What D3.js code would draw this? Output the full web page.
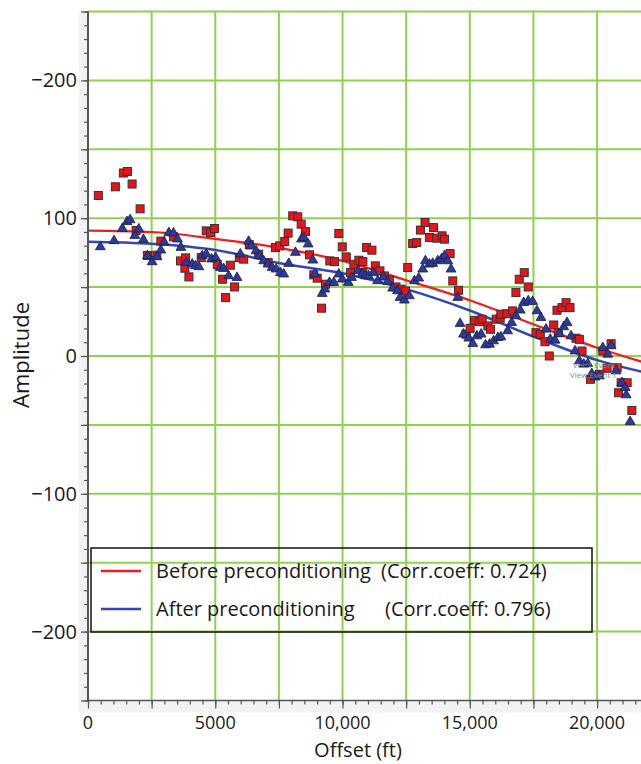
<!DOCTYPE html>
<html>
<head>
<meta charset="utf-8">
<script src="https://cdn.jsdelivr.net/npm/d3@7/dist/d3.min.js"></script>
<style>
body { margin: 0; background: #fff; }
svg { display: block; font-family: "Open Sans", "Noto Sans", sans-serif; }
</style>
</head>
<body>
<svg id="chart" width="641" height="764"></svg>
<script>
// scatter: before preconditioning (red squares)
var beforeOffset = [406, 1075, 1390, 1547, 1732, 2047, 1890, 2862, 2335, 2705, 3358, 3634, 3831, 3807, 3965,
    4646, 4815, 4972, 4449, 5079, 5287, 5405, 5591, 5760, 5945, 6114, 6339, 6705, 7075, 7362, 7531, 7728,
    7862, 8043, 8240, 8374, 8543, 8701, 8870, 9004, 9331, 9173, 9500, 9685, 9854, 9988, 10146, 10315, 10445,
    10642, 10799, 10799, 10945, 11154, 11287, 11469, 11642, 11838, 12098, 12295, 12469, 12559, 12756, 12913,
    13059, 13240, 13413, 13571, 13701, 13910, 14004, 14225, 14331, 14555, 14854, 15012, 15185, 15382, 15484,
    15709, 15815, 16035, 16193, 16220, 16457, 16681, 16811, 16941, 17138, 17295, 17598, 17768, 17953, 18122,
    18295, 18476, 18425, 18622, 18780, 18937, 19173, 19303, 19409, 19736, 20090, 20224, 20394, 20551, 20787,
    20839, 20945, 21181, 21366];
var beforeAmp = [116.5, 122.8, 132.8, 133.9, 124.8, 106.8, 91.1, 83.4, 72.9, 73.2, 86.5, 69.0, 71.2, 63.7, 57.4,
    90.8, 89.6, 92.5, 71.4, 66.4, 55.7, 42.4, 65.9, 50.1, 71.4, 70.3, 80.7, 73.9, 67.8, 78.7, 79.9, 83.1,
    89.2, 101.7, 101.0, 95.7, 90.3, 73.4, 58.9, 56.5, 52.1, 34.7, 69.0, 68.5, 88.9, 79.2, 71.9, 60.5, 66.6,
    69.5, 68.5, 60.5, 78.7, 76.8, 65.4, 61.8, 58.1, 55.0, 50.1, 48.5, 47.2, 64.2, 81.6, 82.3,
    91.4, 96.9, 86.0, 93.2, 85.5, 87.2, 84.8, 74.3, 54.5, 47.7, 15.8, 20.1, 25.9, 24.9, 26.7,
    21.8, 19.4, 26.7, 27.4, 30.3, 30.7, 32.7, 46.0, 55.7, 60.5, 50.1, 16.9, 15.8, 10.4, 0,
    22.5, 16.9, 33.2, 35.1, 38.7, 35.1, 12.9, 12.1, 3.6, -16.9, -13.3, 3.6, -8.9, 8.9, -8.5,
    -26.7, -19.4, -19.4, -39.5];

// scatter: after preconditioning (blue triangles)
var afterOffset = [484, 1024, 1350, 1535, 1654, 1839, 1996, 2177, 2335, 2520, 2705, 2862, 2992, 3177, 3358,
    3516, 3650, 3858, 4094, 4224, 4358, 4488, 4646, 4854, 5012, 5197, 5327, 5524, 5854, 5984, 6311, 6417,
    6602, 6732, 6902, 7075, 7232, 7390, 7559, 7689, 7886, 8150, 8386, 8476, 8650, 8831, 8909, 9201, 9303,
    9488, 9657, 9854, 9988, 10224, 10354, 10618, 10775, 10905, 11024, 11209, 11378, 11602, 11772, 11969,
    12165, 12256, 12429, 12626, 12823, 12992, 13150, 13256, 13413, 13543, 13740, 13886, 14004, 14134, 14264,
    14528, 14618, 14752, 14961, 15118, 15276, 15445, 15618, 15776, 15933, 16102, 16220, 16484, 16642, 16811,
    16980, 17114, 17295, 17468, 17638, 17795, 17992, 18161, 18346, 18516, 18689, 18819, 18976, 19134, 19303,
    19476, 19634, 19791, 19921, 20090, 20224, 20421, 20551, 20748, 20972, 21102, 21142, 21299];
var afterAmp = [79.2, 83.6, 92.5, 97.4, 98.8, 87.4, 92.1, 84.5, 72.7, 68.3, 71.9, 76.8, 82.6, 89.4, 89.2,
    84.8, 78.7, 67.8, 66.6, 65.4, 64.7, 72.7, 73.9, 70.3, 71.4, 64.2, 63.4, 58.1, 56.9, 73.9, 83.1, 79.9,
    76.3, 72.7, 69.0, 66.6, 64.2, 63.0, 60.5, 59.4, 67.1, 75.1, 84.8, 86.0, 81.2, 69.5, 59.4, 45.3, 48.5,
    53.3, 53.3, 59.4, 55.7, 53.3, 56.9, 61.8, 59.4, 58.1, 58.1, 60.5, 54.5, 57.4, 54.0, 49.2,
    47.2, 42.4, 40.5, 43.6, 54.5, 56.5, 63.0, 69.0, 66.6, 67.1, 69.0, 70.3, 72.7, 69.0, 63.0,
    42.4, 23.5, 15.8, 12.9, 8.9, 14.5, 15.8, 8.0, 8.5, 10.9, 13.3, 13.8, 18.2, 24.2, 29.1,
    33.2, 38.7, 40.0, 39.5, 32.7, 27.8, 19.4, 12.1, 11.4, 16.2, 21.1, 24.2, 14.5, 3.6, -3.6,
    -6.0, -5.6, -12.9, -15.3, -14.5, 6.0, 1.2, 7.3, -10.9, -19.4, -23.0, -28.3, -47.7];

// trend lines
var fitOffset = [0, 2500, 5000, 7500, 10000, 12500, 15000, 17500, 20000, 22000];
var beforeFit = [91, 90, 85, 78.5, 69, 55, 40.5, 23, 6, -5.5];
var afterFit = [83, 81.5, 77, 67.5, 60, 48.5, 33, 14, -3, -12.5];

// axes (tick labels as printed on the original)
var yTickValues = [200, 100, 0, -100, -200];
var yTickLabels = ['\u2212200', '100', '0', '\u2212100', '\u2212200'];
var xTickValues = [0, 5000, 10000, 15000, 20000];
var xTickLabels = ['0', '5000', '10,000', '15,000', '20,000'];

var legendItems = [
    {name: 'Before preconditioning', coeff: '(Corr.coeff: 0.724)', color: '#f21d1d'},
    {name: 'After preconditioning', coeff: '(Corr.coeff: 0.796)', color: '#3346b4'}
];

var svg = d3.select('#chart');
var plotLeft = 88, plotTop = 11.5, plotBottom = 700.5, plotRight = 648;

var x = d3.scaleLinear().domain([0, 22000]).range([plotLeft, plotRight]);
var y = d3.scaleLinear().domain([-250, 250]).range([plotBottom, plotTop]);

// gray bands behind the axes
svg.append('rect').attr('x', 79).attr('y', plotTop).attr('width', plotLeft - 79).attr('height', plotBottom - plotTop + 12)
    .style('fill', '#f2f2f2');
svg.append('rect').attr('x', 79).attr('y', plotBottom).attr('width', 641 - 79).attr('height', 12)
    .style('fill', '#f2f2f2');

var plot = svg.append('g');
plot.append('rect').attr('x', plotLeft).attr('y', plotTop).attr('width', plotRight - plotLeft).attr('height', plotBottom - plotTop)
    .style('fill', '#fff');

// green grid
plot.selectAll('.vgrid')
    .data(d3.range(2500, 22001, 2500))
    .enter()
    .append('line')
    .attr('x1', function(d) {return x(d);})
    .attr('x2', function(d) {return x(d);})
    .attr('y1', plotTop)
    .attr('y2', plotBottom)
    .style('stroke', '#92d050')
    .style('stroke-width', 2);
plot.selectAll('.hgrid')
    .data(d3.range(-200, 251, 50))
    .enter()
    .append('line')
    .attr('x1', plotLeft)
    .attr('x2', plotRight)
    .attr('y1', function(d) {return y(d);})
    .attr('y2', function(d) {return y(d);})
    .style('stroke', '#92d050')
    .style('stroke-width', 2);

// axes with minor ticks
var yMinor = d3.axisLeft(y).tickValues(d3.range(-250, 251, 10)).tickSize(4).tickFormat('');
var yMajor = d3.axisLeft(y).tickValues(d3.range(-250, 251, 50)).tickSize(7).tickFormat('');
var xMinor = d3.axisBottom(x).tickValues(d3.range(0, 22001, 500)).tickSize(4).tickFormat('');
var xMajor = d3.axisBottom(x).tickValues(d3.range(0, 22001, 2500)).tickSize(8).tickFormat('');

[yMinor, yMajor].forEach(function(ax) {
    svg.append('g').attr('transform', 'translate(' + plotLeft + ',0)').call(ax);
});
[xMinor, xMajor].forEach(function(ax) {
    svg.append('g').attr('transform', 'translate(0,' + plotBottom + ')').call(ax);
});
svg.selectAll('.domain').remove();
svg.selectAll('.tick line').style('stroke', '#555').style('stroke-width', 1.2);

svg.append('line').attr('x1', plotLeft).attr('x2', plotLeft).attr('y1', plotTop).attr('y2', plotBottom + 1)
    .style('stroke', '#555').style('stroke-width', 2);
svg.append('line').attr('x1', plotLeft).attr('x2', 641).attr('y1', plotBottom).attr('y2', plotBottom)
    .style('stroke', '#555').style('stroke-width', 1.5);

// tick labels
svg.selectAll('.ylab')
    .data(yTickValues)
    .enter()
    .append('text')
    .attr('x', 77)
    .attr('y', function(d) {return y(d) + 7;})
    .attr('text-anchor', 'end')
    .style('font-size', '20px')
    .style('fill', '#1a1a1a')
    .text(function(d, i) {return yTickLabels[i];});
svg.selectAll('.xlab')
    .data(xTickValues)
    .enter()
    .append('text')
    .attr('x', function(d) {return x(d);})
    .attr('y', 729)
    .attr('text-anchor', 'middle')
    .style('font-size', '18px')
    .style('fill', '#1a1a1a')
    .text(function(d, i) {return xTickLabels[i];});

svg.append('text')
    .attr('x', 358)
    .attr('y', 757)
    .attr('text-anchor', 'middle')
    .style('font-size', '20px')
    .style('fill', '#1a1a1a')
    .text('Offset  (ft)');
svg.append('text')
    .attr('transform', 'translate(29,355) rotate(-90)')
    .attr('text-anchor', 'middle')
    .style('font-size', '22px')
    .style('fill', '#1a1a1a')
    .text('Amplitude');

// trend curves
var line = d3.line()
    .x(function(d) {return x(d[0]);})
    .y(function(d) {return y(d[1]);})
    .curve(d3.curveMonotoneX);
plot.append('path')
    .datum(d3.zip(fitOffset, beforeFit))
    .attr('d', line)
    .style('fill', 'none')
    .style('stroke', '#f21d1d')
    .style('stroke-width', 2.2);
plot.append('path')
    .datum(d3.zip(fitOffset, afterFit))
    .attr('d', line)
    .style('fill', 'none')
    .style('stroke', '#3346b4')
    .style('stroke-width', 2.5);

// points
plot.selectAll('.sq')
    .data(d3.zip(beforeOffset, beforeAmp))
    .enter()
    .append('rect')
    .attr('x', function(d) {return x(d[0]) - 4;})
    .attr('y', function(d) {return y(d[1]) - 4;})
    .attr('width', 8)
    .attr('height', 8)
    .style('fill', '#e8141c')
    .style('stroke', '#3a3030')
    .style('stroke-width', 1);
var tri = d3.symbol().type(d3.symbolTriangle).size(42);
plot.selectAll('.tri')
    .data(d3.zip(afterOffset, afterAmp))
    .enter()
    .append('path')
    .attr('d', tri)
    .attr('transform', function(d) {return 'translate(' + x(d[0]) + ',' + y(d[1]) + ')';})
    .style('fill', '#2b3a9c')
    .style('stroke', '#1a1f40')
    .style('stroke-width', 0.8);

// small overlapping labels from the source software
plot.append('text').attr('x', 573).attr('y', 368).style('font-size', '8px').style('fill', '#888')
    .text('Ver:1 Event 1');
plot.append('text').attr('x', 570).attr('y', 378).style('font-size', '8px').style('fill', '#888')
    .text('View:Event 1');

// legend (transparent box)
var legend = svg.append('g');
legend.append('rect')
    .attr('x', 91).attr('y', 548).attr('width', 501).attr('height', 84)
    .style('fill', 'none')
    .style('stroke', '#111')
    .style('stroke-width', 1.5);
var rows = legend.selectAll('.row')
    .data(legendItems)
    .enter()
    .append('g')
    .attr('transform', function(d, i) {return 'translate(0,' + (571 + i * 38) + ')';});
rows.append('line')
    .attr('x1', 101).attr('x2', 141).attr('y1', 0).attr('y2', 0)
    .style('stroke', function(d) {return d.color;})
    .style('stroke-width', 2.5);
rows.append('text')
    .attr('x', 156).attr('y', 7)
    .style('font-size', '20px')
    .style('fill', '#1a1a1a')
    .text(function(d) {return d.name;});
rows.append('text')
    .attr('x', function(d, i) {return i == 0 ? 381 : 385;}).attr('y', 7)
    .style('font-size', '20px')
    .style('fill', '#1a1a1a')
    .text(function(d) {return d.coeff;});
</script>
</body>
</html>
